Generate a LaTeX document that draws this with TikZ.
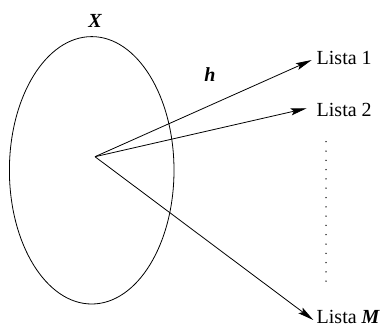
\documentclass[tikz,border=0pt]{standalone}
\usepackage{fontspec}
\setmainfont{Liberation Serif}
\usetikzlibrary{arrows.meta}
\begin{document}
\begin{tikzpicture}[x=1pt,y=-1pt,
  lbl/.style={anchor=base west,inner sep=0pt,font=\fontsize{20}{24}\selectfont},
  bi/.style={inner sep=0pt,font=\fontsize{20}{24}\selectfont\bfseries\itshape},
  arr/.style={line width=0.8pt,-{Stealth[length=16pt,width=7pt,inset=3pt]}}]
\useasboundingbox (0,0) rectangle (383,327);
\draw[line width=0.8pt] (91.7,170.3) ellipse [x radius=82.3, y radius=133.7];
\coordinate (c) at (95,156.7);
\coordinate (t1) at (311.7,60);
\coordinate (t2) at (306.7,108.3);
\coordinate (tM) at (313.3,320);
\node[lbl] (l1) at (316.5,64.5) {Lista 1};
\node[lbl] (l2) at (316.5,116.5) {Lista 2};
\node[lbl] (lM) at (316.5,323.5) {Lista \textbf{\textit{M}}};
\node[bi] (X) at (95,21) {X};
\node[bi] (h) at (210,75) {h};
\draw[arr] (c) -- (t1);
\draw[arr] (c) -- (t2);
\draw[arr] (c) -- (tM);
\coordinate (d1) at (326,141.7);
\coordinate (d2) at (326,282);
\draw[line width=1.5pt,line cap=round,dash pattern=on 0pt off 9.3pt] (d1) -- (d2);
\end{tikzpicture}
\end{document}
